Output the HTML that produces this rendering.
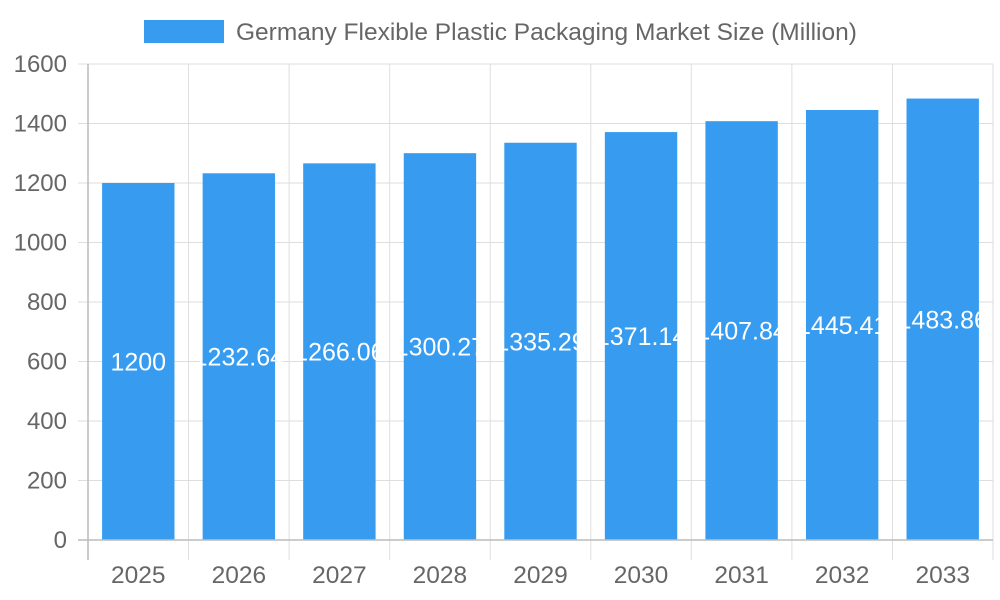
<!DOCTYPE html>
<html><head><meta charset="utf-8"><style>
body{margin:0;background:#fff;}
svg{display:block;font-family:"Liberation Sans",sans-serif;}
</style></head><body>
<svg id="chart" width="1000" height="600">
<g id="grid"></g>
<g id="bars"></g>
<g id="axes"></g>
<g>
<rect x="144" y="20" width="80" height="23" fill="#379cf0"/>
<text x="236" y="40" font-size="24.5" fill="#666">Germany Flexible Plastic Packaging Market Size (Million)</text>
</g>
</svg>
<script>
const categories=["2025","2026","2027","2028","2029","2030","2031","2032","2033"];
const values=[1200,1232.64,1266.06,1300.27,1335.29,1371.14,1407.84,1445.41,1483.86];
const valueLabels=["1200","1232.64","1266.06","1300.27","1335.29","1371.14","1407.84","1445.41","1483.86"];
const yTicks=[0,200,400,600,800,1000,1200,1400,1600];
const NS="http://www.w3.org/2000/svg";
const L=88,R=993,T=64,B=540,yMax=1600;
const band=(R-L)/categories.length;
const y=v=>B-(v/yMax)*(B-T);
const x=i=>L+band*i;
function mk(tag,attrs,parent,text){const e=document.createElementNS(NS,tag);for(const k in attrs)e.setAttribute(k,attrs[k]);if(text!==undefined)e.textContent=text;parent.appendChild(e);return e;}
const grid=document.getElementById('grid'),bars=document.getElementById('bars'),axes=document.getElementById('axes');
yTicks.forEach(t=>{
  const l=mk('line',{x1:L-10,x2:R,y1:y(t),y2:y(t),stroke:'#dedede','stroke-width':1},grid);
  
  
  const tx=mk('text',{x:L-21,y:y(t)+8,'text-anchor':'end','font-size':24,fill:'#666'},axes,String(t));
  
  
});
for(let i=0;i<=categories.length;i++){
  const l=mk('line',{x1:x(i),x2:x(i),y1:T,y2:B+20,stroke:'#dedede','stroke-width':1},grid);
  
  
}
categories.forEach((c,i)=>{
  const cx=x(i)+band/2,w=band*0.72;
  const r=mk('rect',{x:cx-w/2,y:y(values[i]),width:w,height:B-y(values[i]),fill:'#379cf0'},bars);
  
  
  const vl=mk('text',{x:cx,y:(y(values[i])+B)/2+9,'text-anchor':'middle','font-size':25,fill:'#fff'},bars,valueLabels[i]);
  
  
  const xl=mk('text',{x:cx,y:583,'text-anchor':'middle','font-size':24.5,fill:'#666'},axes,c);
  
  
});
const xa=mk('line',{x1:L-10,x2:R,y1:B,y2:B,stroke:'#bbb','stroke-width':1.5},axes);


const ya=mk('line',{x1:L,x2:L,y1:T,y2:B+20,stroke:'#bbb','stroke-width':1.5},axes);


</script>
</body></html>
